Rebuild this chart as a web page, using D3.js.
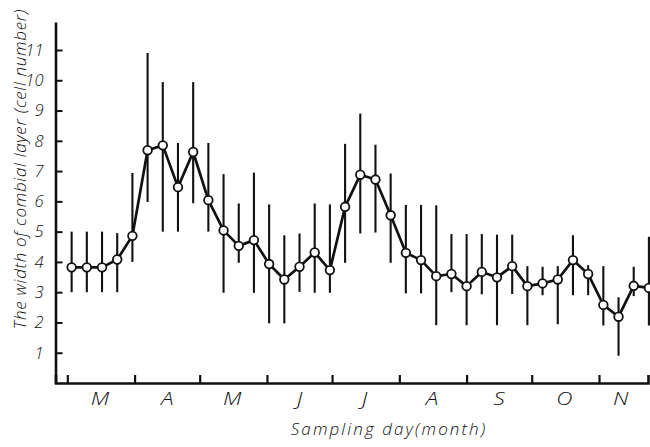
<!DOCTYPE html>
<html>
<head>
<meta charset="utf-8">
<script src="https://cdn.jsdelivr.net/npm/d3@7"></script>
<style>
  html, body { margin: 0; padding: 0; background: #fff; }
  svg { display: block; }
  text { font-family: "Open Sans", "DejaVu Sans", sans-serif; font-style: italic; font-weight: 300; fill: #111; }
</style>
</head>
<body>
<svg id="chart" width="650" height="447"></svg>
<script>
// ---- data ----
const sampleDates = [
  "1975-03-03","1975-03-10","1975-03-17","1975-03-24","1975-03-31",
  "1975-04-07","1975-04-14","1975-04-21","1975-04-28",
  "1975-05-05","1975-05-12","1975-05-19","1975-05-26",
  "1975-06-02","1975-06-09","1975-06-16","1975-06-23","1975-06-30",
  "1975-07-07","1975-07-14","1975-07-21","1975-07-28",
  "1975-08-04","1975-08-11","1975-08-18","1975-08-25",
  "1975-09-01","1975-09-08","1975-09-15","1975-09-22","1975-09-29",
  "1975-10-06","1975-10-13","1975-10-20","1975-10-27",
  "1975-11-03","1975-11-10","1975-11-17","1975-11-24"
];
const meanWidth = [
  3.82, 3.82, 3.82, 4.08, 4.86,
  7.69, 7.85, 6.47, 7.63,
  6.04, 5.04, 4.53, 4.72,
  3.93, 3.42, 3.84, 4.31, 3.73,
  5.82, 6.88, 6.72, 5.54,
  4.30, 4.06, 3.53, 3.60,
  3.20, 3.67, 3.49, 3.86, 3.20,
  3.29, 3.42, 4.06, 3.60,
  2.58, 2.19, 3.21, 3.14
];
const minWidth = [
  3.0, 3.0, 3.0, 3.0, 4.0,
  5.98, 5.0, 5.0, 5.94,
  5.0, 2.98, 3.97, 2.98,
  1.97, 1.97, 3.01, 2.98, 2.98,
  3.97, 4.94, 4.97, 3.97,
  2.96, 2.96, 1.91, 3.0,
  1.91, 2.93, 1.91, 2.94, 1.91,
  2.9, 1.94, 2.9, 2.9,
  1.9, 0.9, 2.87, 1.9
];
const maxWidth = [
  5.0, 5.0, 5.0, 4.95, 6.94,
  10.9, 9.94, 7.93, 9.94,
  7.93, 6.9, 5.93, 6.95,
  5.9, 4.88, 4.94, 5.93, 5.9,
  7.9, 8.9, 7.87, 6.92,
  5.88, 5.88, 5.87, 4.92,
  4.92, 4.92, 4.9, 4.9, 3.86,
  3.84, 3.86, 4.88, 3.89,
  3.86, 2.83, 3.84, 4.83
];
const monthTicks = ["1975-03-01","1975-04-01","1975-05-01","1975-06-01","1975-07-01",
                    "1975-08-01","1975-09-01","1975-10-01","1975-11-01"];
const monthLabels = ["M","A","M","J","J","A","S","O","N"];
const monthLabelDates = ["1975-03-16","1975-04-16","1975-05-16","1975-06-16","1975-07-16",
                         "1975-08-16","1975-09-16","1975-10-16","1975-11-11"];
const yTicks = [1,2,3,4,5,6,7,8,9,10,11];
const xTitle = "Sampling day(month)";
const yTitle = "The width of combial layer (cell number)";

// ---- layout ----
const parse = d3.utcParse("%Y-%m-%d");
const svg = d3.select("#chart");
const axisLeftX = 55.5, axisBottomY = 383, axisRightX = 648, axisTopY = 22;

const x = d3.scaleUtc()
  .domain([parse("1975-03-01"), parse("1975-11-01")])
  .range([67.3, 599]);
const y = d3.scaleLinear().domain([0, 11]).range([axisBottomY, 50]);

const data = sampleDates.map((d, i) => ({
  date: parse(d), mean: meanWidth[i], lo: minWidth[i], hi: maxWidth[i]
}));

// x axis
const xAxisScale = x.copy()
  .domain([x.invert(axisLeftX), x.invert(axisRightX)])
  .range([axisLeftX, axisRightX]);
const gx = svg.append("g").attr("transform", `translate(0,${axisBottomY})`)
  .call(d3.axisBottom(xAxisScale)
    .tickValues(monthTicks.map(parse))
    .tickSizeInner(-8).tickSizeOuter(-8)
    .tickFormat(""));
gx.select(".domain").attr("stroke", "#111").attr("stroke-width", 2.6).attr("fill", "none");
gx.selectAll(".tick line").attr("stroke", "#111").attr("stroke-width", 2.2);

svg.append("g").selectAll("text").data(monthLabels).join("text")
  .attr("x", (d, i) => x(parse(monthLabelDates[i])))
  .attr("y", 405)
  .attr("text-anchor", "middle")
  .attr("font-size", 18)
  .attr("transform-origin", (d, i) => `${x(parse(monthLabelDates[i]))} 405`)
  .attr("transform", "scale(1.25,1)")
  .text(d => d);

// y axis
const yAxisScale = y.copy().domain([0, y.invert(axisTopY)]).range([axisBottomY, axisTopY]);
const gy = svg.append("g").attr("transform", `translate(${axisLeftX},0)`)
  .call(d3.axisLeft(yAxisScale).tickValues(yTicks).tickSizeInner(-7).tickSizeOuter(0).tickPadding(12));
gy.select(".domain").attr("stroke", "#111").attr("stroke-width", 2.6);
gy.selectAll(".tick line").attr("stroke", "#111").attr("stroke-width", 2);
gy.selectAll(".tick text")
  .attr("font-family", "'Open Sans', 'DejaVu Sans', sans-serif")
  .attr("font-style", "italic").attr("font-weight", 300)
  .attr("font-size", 16.5).attr("fill", "#111");

// titles
svg.append("text").attr("x", 389).attr("y", 435).attr("text-anchor", "middle")
  .attr("font-size", 17).attr("letter-spacing", 2.1).text(xTitle);
svg.append("text")
  .attr("transform", "translate(26,169) rotate(-90)")
  .attr("text-anchor", "middle").attr("font-size", 17).attr("letter-spacing", 0.7).text(yTitle);

// error bars
svg.append("g").selectAll("line").data(data).join("line")
  .attr("x1", d => x(d.date)).attr("x2", d => x(d.date))
  .attr("y1", d => y(d.lo)).attr("y2", d => y(d.hi))
  .attr("stroke", "#111").attr("stroke-width", 2.1);

// mean line
const line = d3.line().x(d => x(d.date)).y(d => y(d.mean));
svg.append("path").datum(data).attr("d", line)
  .attr("fill", "none").attr("stroke", "#111").attr("stroke-width", 2.7)
  .attr("stroke-linejoin", "round");

// points
svg.append("g").selectAll("circle").data(data).join("circle")
  .attr("cx", d => x(d.date)).attr("cy", d => y(d.mean)).attr("r", 4.3)
  .attr("fill", "#fff").attr("stroke", "#111").attr("stroke-width", 1.8);
</script>
</body>
</html>
